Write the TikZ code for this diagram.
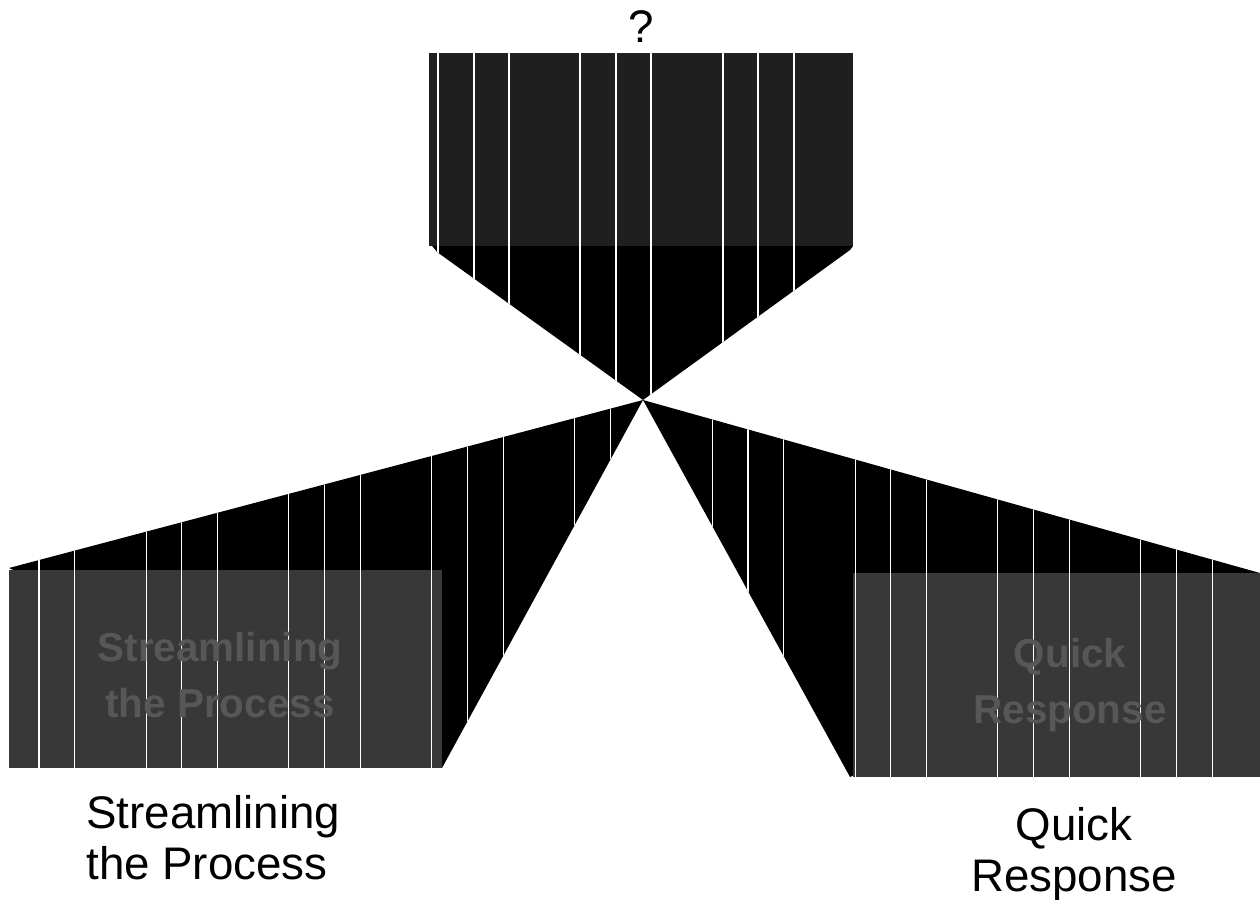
\documentclass[tikz,border=0pt]{standalone}
\usepackage{fontspec}
\setmainfont{Liberation Sans}
\begin{document}
\begin{tikzpicture}[x=0.02cm, y=-0.02cm,
        lbl/.style={font=\fontsize{26}{29}\selectfont, inner sep=0pt},
        boxtxt/.style={font=\fontsize{23}{32}\selectfont\bfseries, text=black!66, align=center, inner sep=0pt},
        seam/.style={white, line width=0.6pt}]
    \useasboundingbox (0,0) rectangle (1260,899);
    \coordinate (apex) at (643,400);
    % top box with its funnel
    \fill[black] (429,242) -- (437,252) -- (apex) -- (850,250) -- (853,246) -- cycle;
    \fill[black!88] (429,53) rectangle (853,246);
    % left fan and box
    \fill[black] (apex) -- (9,568) -- (442,768) -- cycle;
    \fill[black!78] (9,570) rectangle (442,768);
    % right fan and box
    \fill[black] (apex) -- (1260,573) -- (850,777) -- cycle;
    \fill[black!78] (853,573) rectangle (1260,777);
    % white seams
    \begin{scope}
        \clip (429,53) -- (853,53) -- (853,246) -- (850,250) -- (apex) -- (437,252) -- (429,242) -- cycle;
        \foreach \x in {438, 474, 509, 580, 616, 651, 723, 758, 794}
            \draw[seam] (\x,53) -- (\x,400);
    \end{scope}
    \begin{scope}
        \clip (apex) -- (9,568) -- (9,768) -- (442,768) -- cycle;
        \foreach \k [evaluate=\k as \x using 39+35.7*\k] in {0, 1, 3, 4, 5, 7, 8, 9, 11, 12, 13, 15, 16}
            \draw[seam] (\x,400) -- (\x,768);
    \end{scope}
    \begin{scope}
        \clip (apex) -- (1260,573) -- (1260,777) -- (850,777) -- cycle;
        \foreach \k [evaluate=\k as \x using 34+35.7*\k] in {19, 20, 21, 23, 24, 25, 27, 28, 29, 31, 32, 33}
            \draw[seam] (\x,400) -- (\x,777);
    \end{scope}
    % faint texts in the boxes
    \node[boxtxt] (streamin) at (220,675) {Streamlining\\the Process};
    \node[boxtxt] (quickin) at (1070,685) {Quick\\Response};
    % labels
    \node[lbl, anchor=base] (query) at (641,42) {?};
    \node[lbl, anchor=north west, align=left] (stream) at (86,795) {Streamlining\\the Process};
    \node[lbl, anchor=north, align=center] (quick) at (1074,807) {Quick\\Response};
\end{tikzpicture}
\end{document}
